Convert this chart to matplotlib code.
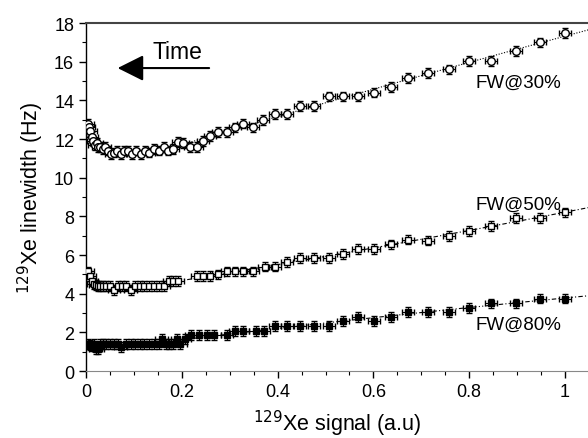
import numpy as np
import matplotlib.pyplot as plt
from matplotlib.ticker import MultipleLocator

plt.rcParams['font.family'] = ['Liberation Sans', 'DejaVu Sans']

# FW@30% (open circles)
x30 = [0.004, 0.006, 0.009, 0.012, 0.015, 0.018, 0.022, 0.026, 0.030, 0.035,
       0.040, 0.046, 0.052, 0.058, 0.065, 0.072, 0.080, 0.088, 0.096, 0.105,
       0.114, 0.123, 0.132, 0.142, 0.152, 0.162, 0.172, 0.182, 0.192, 0.203,
       0.217, 0.232, 0.244, 0.259, 0.276, 0.294, 0.311, 0.328, 0.349, 0.370,
       0.395, 0.420, 0.447, 0.476, 0.507, 0.537, 0.568, 0.601, 0.637, 0.672,
       0.714, 0.758, 0.800, 0.846, 0.898, 0.948, 1.000]
y30 = [12.8, 12.6, 12.4, 12.1, 11.9, 11.7, 11.8, 11.6, 11.6, 11.5,
       11.6, 11.4, 11.2, 11.3, 11.4, 11.2, 11.4, 11.4, 11.2, 11.4,
       11.2, 11.4, 11.3, 11.5, 11.4, 11.6, 11.4, 11.5, 11.85, 11.8,
       11.6, 11.6, 11.9, 12.15, 12.35, 12.35, 12.6, 12.8, 12.6, 13.0,
       13.3, 13.3, 13.7, 13.7, 14.2, 14.2, 14.2, 14.4, 14.7, 15.15,
       15.4, 15.6, 16.05, 16.05, 16.55, 17.0, 17.5]

# FW@50% (open squares)
x50 = [0.004, 0.008, 0.012, 0.016, 0.020, 0.025, 0.030, 0.036, 0.042, 0.050,
       0.058, 0.066, 0.075, 0.084, 0.093, 0.102, 0.112, 0.122, 0.132, 0.142,
       0.152, 0.162, 0.173, 0.182, 0.192, 0.232, 0.244, 0.259, 0.276, 0.294,
       0.311, 0.328, 0.349, 0.373, 0.395, 0.420, 0.447, 0.476, 0.507, 0.537,
       0.568, 0.601, 0.637, 0.672, 0.714, 0.758, 0.800, 0.846, 0.898, 0.948,
       1.000]
y50 = [5.15, 4.9, 4.65, 4.5, 4.45, 4.4, 4.4, 4.4, 4.4, 4.4,
       4.2, 4.4, 4.4, 4.4, 4.2, 4.4, 4.4, 4.4, 4.4, 4.4,
       4.4, 4.4, 4.65, 4.65, 4.65, 4.9, 4.9, 4.9, 5.0, 5.15,
       5.15, 5.15, 5.15, 5.4, 5.4, 5.65, 5.85, 5.85, 5.85, 6.05,
       6.3, 6.3, 6.55, 6.8, 6.75, 7.0, 7.25, 7.5, 7.9, 7.9,
       8.2]

# FW@80% (filled squares)
x80 = [0.004, 0.008, 0.012, 0.016, 0.020, 0.025, 0.030, 0.036, 0.042, 0.050,
       0.058, 0.066, 0.072, 0.084, 0.093, 0.102, 0.112, 0.122, 0.132, 0.142,
       0.152, 0.158, 0.167, 0.173, 0.182, 0.190, 0.197, 0.207, 0.219, 0.236,
       0.252, 0.268, 0.294, 0.311, 0.328, 0.354, 0.372, 0.394, 0.420, 0.447,
       0.476, 0.507, 0.537, 0.568, 0.601, 0.637, 0.672, 0.714, 0.758, 0.800,
       0.846, 0.898, 0.948, 1.000]
y80 = [1.4, 1.35, 1.3, 1.4, 1.15, 1.15, 1.4, 1.4, 1.4, 1.4,
       1.4, 1.4, 1.25, 1.4, 1.4, 1.4, 1.4, 1.4, 1.4, 1.4,
       1.4, 1.65, 1.4, 1.4, 1.4, 1.65, 1.4, 1.65, 1.85, 1.85,
       1.85, 1.85, 1.85, 2.07, 2.07, 2.07, 2.07, 2.33, 2.33, 2.33,
       2.33, 2.33, 2.6, 2.8, 2.6, 2.8, 3.05, 3.05, 3.05, 3.25,
       3.5, 3.5, 3.75, 3.75]

yerr = 0.25
xerr = 0.013

fig = plt.figure(figsize=(5.88, 4.39), dpi=100)
ax = fig.add_axes([0.1463, 0.1526, 0.8537, 0.7927])

ekw = dict(ecolor='black', elinewidth=0.8, capsize=2.2, capthick=0.8, linestyle='none')
ax.errorbar(x30, y30, yerr=yerr, xerr=xerr, marker='o', ms=5.5, mfc='white',
            mec='black', mew=1.0, zorder=3, **ekw)
ax.errorbar(x50, y50, yerr=yerr, xerr=xerr, marker='s', ms=5, mfc='white',
            mec='black', mew=1.0, zorder=3, **ekw)
ax.errorbar(x80, y80, yerr=yerr, xerr=xerr, marker='s', ms=5, mfc='black',
            mec='black', mew=1.0, zorder=3, **ekw)

# smooth trend lines fitted to the later part of each series
xx = np.linspace(0.17, 1.06, 200)
for xs, ys, ls in [(x30, y30, (0, (1, 1.5))),
                   (x50, y50, (0, (4, 2, 1, 2))),
                   (x80, y80, (0, (4, 2, 1, 2, 1, 2)))]:
    xs = np.array(xs)
    ys = np.array(ys)
    m = xs >= 0.15
    p = np.polyfit(xs[m], ys[m], 2)
    ax.plot(xx, np.polyval(p, xx), color='black', lw=0.8, linestyle=ls, zorder=2)

ax.set_xlim(0, 1.048)
ax.set_ylim(0, 18)
ax.xaxis.set_major_locator(MultipleLocator(0.2))
ax.xaxis.set_minor_locator(MultipleLocator(0.05))
ax.yaxis.set_major_locator(MultipleLocator(2))
ax.yaxis.set_minor_locator(MultipleLocator(1))
ax.set_xticks([0, 0.2, 0.4, 0.6, 0.8, 1.0])
ax.set_xticklabels(['0', '0.2', '0.4', '0.6', '0.8', '1'])
ax.tick_params(which='major', direction='out', length=5, width=1, labelsize=13)
ax.tick_params(which='minor', direction='out', length=3, width=0.8)

ax.spines['right'].set_visible(False)
ax.spines['top'].set_color('#444444')
ax.spines['top'].set_linewidth(1.5)
ax.spines['bottom'].set_color('#888888')
ax.spines['bottom'].set_linestyle((0, (1, 1)))
ax.spines['left'].set_linewidth(1.0)

ax.set_xlabel('$^{129}$Xe signal (a.u)', fontsize=15.5, labelpad=6)
ax.set_ylabel('$^{129}$Xe linewidth (Hz)', fontsize=15.5, labelpad=6)

ax.text(0.814, 14.95, 'FW@30%', fontsize=13.5, va='center')
ax.text(0.814, 8.64, 'FW@50%', fontsize=13.5, va='center')
ax.text(0.814, 2.43, 'FW@80%', fontsize=13.5, va='center')

ax.text(0.19, 16.2, 'Time', fontsize=16.5, ha='center', va='baseline')
ax.annotate('', xy=(0.066, 15.67), xytext=(0.257, 15.67),
            arrowprops=dict(arrowstyle='-|>,head_length=1.6,head_width=0.8',
                            color='black', lw=1.5, shrinkA=0, shrinkB=0))

fig.savefig('out.png', dpi=100)
